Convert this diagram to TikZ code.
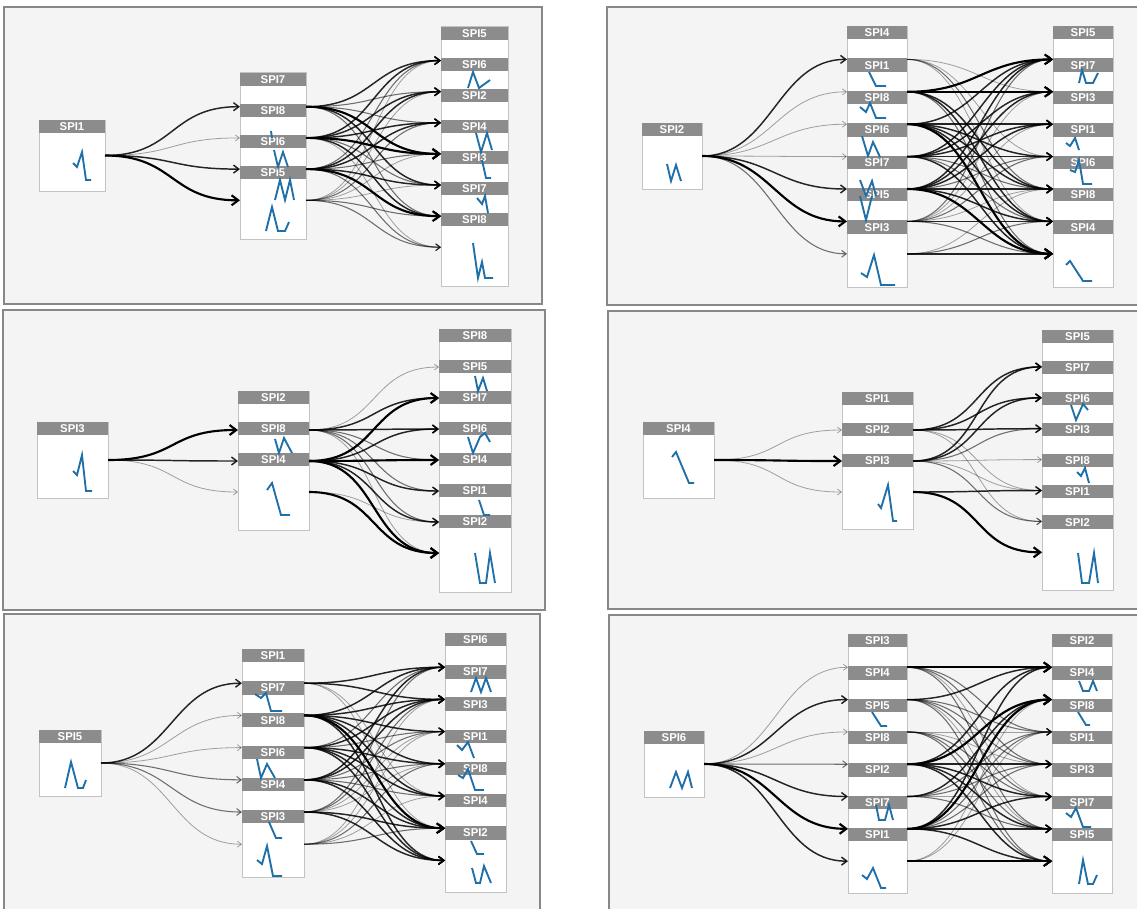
\documentclass[tikz,border=0pt]{standalone}
\usepackage{fontspec}
\setmainfont{Liberation Sans}
\usetikzlibrary{arrows.meta}

\definecolor{panelfill}{RGB}{244,244,244}
\definecolor{paneledge}{RGB}{135,135,135}
\definecolor{hdrgray}{RGB}{140,140,140}
\definecolor{cardedge}{RGB}{195,195,195}
\definecolor{sparkblue}{RGB}{31,111,168}

\begin{document}
\begin{tikzpicture}[
  x=0.75pt, y=-0.75pt,
  every node/.append style={font=\bfseries\fontsize{8.5}{9}\selectfont},
  panel/.style={fill=panelfill, draw=paneledge, line width=0.8pt},
  card/.style={fill=white, draw=cardedge, line width=0.6pt},
  hdr/.style={fill=hdrgray, text=white, minimum width=#1*0.75pt,
    minimum height=10pt, inner sep=0pt},
  spark/.style={draw=sparkblue, line width=1.4pt},
  flowline/.style={-{Straight Barb[length=1.8pt 2, width=2.7pt 3]},
    to path={.. controls +(70,0) and +(-70,0) .. (\tikztotarget)}},
  faint/.style={draw=black, opacity=0.35, line width=0.6pt},
  light/.style={draw=black, opacity=0.55, line width=0.8pt},
  dark/.style={draw=black, opacity=0.85, line width=1.1pt},
  heavy/.style={draw=black, line width=1.6pt},
]
\useasboundingbox (0,0) rectangle (1137,908);
\clip (0,0) rectangle (1137,908);

% ------------------------------------------------------------- SPI1
% Columns are one white card each, the headers sit on it at a fixed pitch and
% every flow lands just under the top of the next header.
\path[panel] (4,7) rectangle (542,304);
\path[card] (39,120) rectangle (105,191);
\node[hdr=66] (s1-src) at (72,126.7) {SPI1};
\coordinate (s1-out) at (105,155.5);
\path[card] (240,72.5) rectangle (306,239);
\path[card] (441,26.5) rectangle (508,286);
\foreach \n [count=\k from 0] in {SPI7,SPI8,SPI6,SPI5}
  \node[hdr=66] (s1-m\k) at (273,{72.5+31.2*\k+6.7}) {\n};
\foreach \n [count=\k from 0] in {SPI5,SPI6,SPI2,SPI4,SPI3,SPI7,SPI8}
  \node[hdr=67] (s1-r\k) at (474.5,{26.5+31.1*\k+6.7}) {\n};
\foreach \k in {1,...,4} {
  \coordinate (s1-mi\k) at (240,{72.5+31.2*\k+3});
  \coordinate (s1-mo\k) at (306,{72.5+31.2*\k+3});
}
\foreach \k in {1,...,7}
  \coordinate (s1-ri\k) at (441,{26.5+31.1*\k+3});
\foreach \k/\w in {1/dark,2/faint,3/dark,4/heavy}
  \draw[flowline,\w] (s1-out) to (s1-mi\k);
\foreach \i/\j/\w in {
    1/1/dark,1/2/light,1/3/light,1/4/heavy,1/5/dark,1/6/light,
    2/1/dark,2/2/dark,2/3/dark,2/4/heavy,2/5/light,2/6/dark,2/7/faint,
    3/1/light,3/2/dark,3/3/dark,3/4/light,3/5/dark,3/6/heavy,3/7/light,
    4/1/faint,4/2/faint,4/3/light,4/4/faint,4/5/faint,4/6/light,4/7/light}
  \draw[flowline,\w] (s1-mo\i) to (s1-ri\j);
\draw[spark] (73,163) -- (77,167) -- (82,152) -- (86,180) -- (91,180);
\draw[spark] (271,131) -- (272,138);
\draw[spark] (274,150) -- (278,167) -- (283,152) -- (288,167);
\draw[spark] (275,200) -- (280,180) -- (285,200) -- (290,180) -- (294,200);
\draw[spark] (266,231) -- (272,207) -- (278,231) -- (285,231) -- (289,222);
\draw[spark] (468,88) -- (473,72) -- (479,88) -- (490,80);
\draw[spark] (476,133) -- (481,152) -- (487,133) -- (492,150);
\draw[spark] (482,160) -- (486,178) -- (491,178);
\draw[spark] (477,198) -- (482,204) -- (485,196) -- (488,213);
\draw[spark] (473,243) -- (478,278) -- (482,262) -- (485,278) -- (493,278);

% ------------------------------------------------------------- SPI2
\path[panel] (607,7) rectangle (1141,305);
\path[card] (642,123) rectangle (702,189);
\node[hdr=60] (s2-src) at (672,129.7) {SPI2};
\coordinate (s2-out) at (702,156);
\path[card] (847,26) rectangle (907,287);
\path[card] (1053,26) rectangle (1113,287);
\foreach \n [count=\k from 0] in {SPI4,SPI1,SPI8,SPI6,SPI7,SPI5,SPI3}
  \node[hdr=60] (s2-m\k) at (877,{26+32.4*\k+6.7}) {\n};
\foreach \n [count=\k from 0] in {SPI5,SPI7,SPI3,SPI1,SPI6,SPI8,SPI4}
  \node[hdr=60] (s2-r\k) at (1083,{26+32.4*\k+6.7}) {\n};
\foreach \k in {1,...,7} {
  \coordinate (s2-mi\k) at (847,{26+32.4*\k+1});
  \coordinate (s2-mo\k) at (907,{26+32.4*\k+1});
  \coordinate (s2-ri\k) at (1053,{26+32.4*\k+1});
}
\foreach \k/\w in {1/dark,2/faint,3/faint,4/faint,5/dark,6/heavy,7/light}
  \draw[flowline,\w] (s2-out) to (s2-mi\k);
\foreach \i/\j/\w in {
    1/2/faint,1/4/faint,1/5/light,1/6/faint,
    2/1/heavy,2/2/heavy,2/5/dark,2/6/dark,2/7/light,
    3/1/dark,3/3/dark,3/4/dark,3/5/dark,3/6/dark,3/7/heavy,
    4/1/dark,4/2/dark,4/3/dark,4/4/dark,4/5/light,4/6/light,4/7/dark,
    5/1/dark,5/2/dark,5/3/dark,5/4/light,5/5/dark,5/6/dark,5/7/heavy,
    6/1/light,6/2/faint,6/3/faint,6/4/light,6/5/faint,6/6/dark,6/7/light,
    7/5/faint,7/6/light,7/7/dark}
  \draw[flowline,\w] (s2-mo\i) to (s2-ri\j);
\draw[spark] (667,164) -- (671,181) -- (676,165) -- (681,181);
\draw[spark] (869,72) -- (876,86) -- (886,86);
\draw[spark] (860,107) -- (866,112) -- (870,103) -- (876,118) -- (886,118);
\draw[spark] (862,136) -- (868,156) -- (873,142) -- (880,157);
\draw[spark] (860,180) -- (866,196) -- (872,181) -- (876,196);
\draw[spark] (860,196) -- (866,220) -- (872,196);
\draw[spark] (861,273) -- (867,277) -- (874,255) -- (881,285) -- (895,285);
\draw[spark] (1079,83) -- (1082,70) -- (1086,83) -- (1093,83) -- (1098,73);
\draw[spark] (1066,143) -- (1070,146) -- (1075,138) -- (1079,150);
\draw[spark] (1070,170) -- (1075,172) -- (1079,160) -- (1083,184) -- (1092,184);
\draw[spark] (1066,265) -- (1070,261) -- (1083,281) -- (1092,281);

% ------------------------------------------------------------- SPI3
\path[panel] (3,310) rectangle (545,610);
\path[card] (37,422) rectangle (108,498);
\node[hdr=71] (s3-src) at (72.5,428.7) {SPI3};
\coordinate (s3-out) at (108,460);
\path[card] (238,391) rectangle (309,530);
\path[card] (439,329) rectangle (511,592);
\foreach \n [count=\k from 0] in {SPI2,SPI8,SPI4}
  \node[hdr=71] (s3-m\k) at (273.5,{391+31*\k+6.7}) {\n};
\foreach \n [count=\k from 0] in {SPI8,SPI5,SPI7,SPI6,SPI4,SPI1,SPI2}
  \node[hdr=72] (s3-r\k) at (475,{329+31*\k+6.7}) {\n};
\foreach \k in {1,...,3} {
  \coordinate (s3-mi\k) at (238,{391+31*\k+8});
  \coordinate (s3-mo\k) at (309,{391+31*\k+8});
}
\foreach \k in {1,...,7}
  \coordinate (s3-ri\k) at (439,{329+31*\k+7});
\foreach \k/\w in {1/heavy,2/dark,3/faint}
  \draw[flowline,\w] (s3-out) to (s3-mi\k);
\foreach \i/\j/\w in {
    1/1/faint,1/2/dark,1/3/dark,1/4/light,1/5/light,1/6/light,1/7/faint,
    2/2/heavy,2/3/dark,2/4/heavy,2/5/dark,2/6/dark,2/7/heavy,
    3/6/faint,3/7/heavy}
  \draw[flowline,\w] (s3-mo\i) to (s3-ri\j);
\draw[spark] (73,471) -- (77,475) -- (82,455) -- (86,491) -- (92,491);
\draw[spark] (275,439) -- (279,453) -- (284,438) -- (292,453);
\draw[spark] (267,490) -- (272,483) -- (281,515) -- (290,515);
\draw[spark] (475,376) -- (478,391) -- (483,378) -- (487,391);
\draw[spark] (468,437) -- (473,453) -- (480,437) -- (485,433) -- (490,442);
\draw[spark] (479,500) -- (484,515) -- (490,515);
\draw[spark] (475,553) -- (480,583) -- (486,583) -- (490,553) -- (495,583);

% ------------------------------------------------------------- SPI4
\path[panel] (608,311) rectangle (1141,609);
\path[card] (643,422) rectangle (714,498);
\node[hdr=71] (s4-src) at (678.5,428.7) {SPI4};
\coordinate (s4-out) at (714,460);
\path[card] (842,392) rectangle (913,529);
\path[card] (1042,330) rectangle (1113,590);
\foreach \n [count=\k from 0] in {SPI1,SPI2,SPI3}
  \node[hdr=71] (s4-m\k) at (877.5,{392+31*\k+6.7}) {\n};
\foreach \n [count=\k from 0] in {SPI5,SPI7,SPI6,SPI3,SPI8,SPI1,SPI2}
  \node[hdr=71] (s4-r\k) at (1077.5,{330+30.9*\k+6.7}) {\n};
\foreach \k in {1,...,3} {
  \coordinate (s4-mi\k) at (842,{392+31*\k+7});
  \coordinate (s4-mo\k) at (913,{392+31*\k+7});
}
\foreach \k in {1,...,7}
  \coordinate (s4-ri\k) at (1042,{330+30.9*\k+6});
\foreach \k/\w in {1/faint,2/heavy,3/faint}
  \draw[flowline,\w] (s4-out) to (s4-mi\k);
\foreach \i/\j/\w in {
    1/1/dark,1/2/dark,1/3/dark,1/5/faint,1/6/faint,
    2/1/dark,2/2/dark,2/3/light,2/4/faint,2/5/faint,2/6/light,
    3/5/dark,3/7/heavy}
  \draw[flowline,\w] (s4-mo\i) to (s4-ri\j);
\draw[spark] (672,457) -- (676,452) -- (689,483) -- (694,483);
\draw[spark] (878,504) -- (881,508) -- (888,485) -- (893,521) -- (897,521);
\draw[spark] (1071,405) -- (1076,420) -- (1083,404) -- (1088,410);
\draw[spark] (1077,472) -- (1081,476) -- (1085,468) -- (1089,483);
\draw[spark] (1078,553) -- (1082,583) -- (1089,583) -- (1094,553) -- (1098,583);

% ------------------------------------------------------------- SPI5
\path[panel] (4,614) rectangle (540,912);
\path[card] (39,730) rectangle (101,796);
\node[hdr=62] (s5-src) at (70,736.7) {SPI5};
\coordinate (s5-out) at (101,763);
\path[card] (242,649) rectangle (304,877);
\path[card] (445,633) rectangle (506,892);
\foreach \n [count=\k from 0] in {SPI1,SPI7,SPI8,SPI6,SPI4,SPI3}
  \node[hdr=62] (s5-m\k) at (273,{649+32.2*\k+6.7}) {\n};
\foreach \n [count=\k from 0] in {SPI6,SPI7,SPI3,SPI1,SPI8,SPI4,SPI2}
  \node[hdr=61] (s5-r\k) at (475.5,{633+32.2*\k+6.7}) {\n};
\foreach \k in {1,...,6} {
  \coordinate (s5-mi\k) at (242,{649+32.2*\k+2});
  \coordinate (s5-mo\k) at (304,{649+32.2*\k+2});
}
\foreach \k in {1,...,7}
  \coordinate (s5-ri\k) at (445,{633+32.2*\k+2});
\foreach \k/\w in {1/dark,2/faint,3/faint,4/light,5/light,6/faint}
  \draw[flowline,\w] (s5-out) to (s5-mi\k);
\foreach \i/\j/\w in {
    1/1/dark,1/2/dark,1/5/faint,1/6/faint,
    2/1/dark,2/2/dark,2/3/dark,2/4/dark,2/5/dark,2/6/heavy,2/7/dark,
    3/1/light,3/2/dark,3/3/light,3/4/dark,3/5/dark,3/6/dark,3/7/dark,
    4/1/dark,4/2/dark,4/3/light,4/4/light,4/5/light,4/6/dark,4/7/dark,
    5/1/light,5/2/light,5/3/faint,5/4/faint,5/6/dark,5/7/dark,
    6/2/faint,6/3/faint,6/4/light,6/5/faint,6/6/light}
  \draw[flowline,\w] (s5-mo\i) to (s5-ri\j);
\draw[spark] (65,788) -- (71,762) -- (78,788) -- (83,788) -- (86,780);
\draw[spark] (255,694) -- (261,698) -- (266,693) -- (271,711) -- (282,711);
\draw[spark] (257,759) -- (261,778) -- (267,764) -- (275,778);
\draw[spark] (269,822) -- (276,838) -- (282,838);
\draw[spark] (257,860) -- (262,864) -- (267,846) -- (273,876) -- (282,876);
\draw[spark] (471,692) -- (476,678) -- (481,692) -- (486,678) -- (491,692);
\draw[spark] (457,745) -- (462,750) -- (468,742) -- (474,758);
\draw[spark] (458,775) -- (463,778) -- (468,769) -- (475,790) -- (484,790);
\draw[spark] (471,841) -- (477,854) -- (484,854);
\draw[spark] (472,868) -- (476,883) -- (480,883) -- (484,866) -- (491,883);

% ------------------------------------------------------------- SPI6
\path[panel] (609,615) rectangle (1141,912);
\path[card] (644,731) rectangle (704,797);
\node[hdr=60] (s6-src) at (674,737.7) {SPI6};
\coordinate (s6-out) at (704,764);
\path[card] (848,634) rectangle (907,893);
\path[card] (1052,634) rectangle (1112,893);
\foreach \n [count=\k from 0] in {SPI3,SPI4,SPI5,SPI8,SPI2,SPI7,SPI1}
  \node[hdr=59] (s6-m\k) at (877.5,{634+32.3*\k+6.7}) {\n};
\foreach \n [count=\k from 0] in {SPI2,SPI4,SPI8,SPI1,SPI3,SPI7,SPI5}
  \node[hdr=60] (s6-r\k) at (1082,{634+32.3*\k+6.7}) {\n};
\foreach \k in {1,...,7} {
  \coordinate (s6-mi\k) at (848,{634+32.3*\k+1});
  \coordinate (s6-mo\k) at (907,{634+32.3*\k+1});
  \coordinate (s6-ri\k) at (1052,{634+32.3*\k+1});
}
\foreach \k/\w in {1/faint,2/dark,3/faint,4/light,5/dark,6/heavy,7/dark}
  \draw[flowline,\w] (s6-out) to (s6-mi\k);
\foreach \i/\j/\w in {
    1/1/heavy,1/3/light,1/4/light,1/5/faint,1/6/light,
    2/1/dark,2/3/light,2/4/light,2/5/light,2/6/faint,2/7/light,
    3/3/faint,3/4/faint,3/5/light,3/6/light,3/7/light,
    4/1/dark,4/2/heavy,4/4/dark,4/5/dark,4/6/dark,4/7/dark,
    5/2/dark,5/3/light,5/4/light,5/5/faint,5/6/light,
    6/1/dark,6/2/heavy,6/3/light,6/4/light,6/5/dark,6/6/dark,6/7/dark,
    7/2/faint,7/3/faint,7/7/heavy}
  \draw[flowline,\w] (s6-mo\i) to (s6-ri\j);
\draw[spark] (670,788) -- (676,772) -- (682,788) -- (688,772) -- (692,788);
\draw[spark] (872,712) -- (881,726) -- (887,726);
\draw[spark] (876,805) -- (879,820) -- (885,820) -- (889,805) -- (893,820);
\draw[spark] (862,875) -- (867,879) -- (873,868) -- (881,888) -- (886,888);
\draw[spark] (1079,681) -- (1083,691) -- (1089,691) -- (1093,681) -- (1097,691);
\draw[spark] (1078,712) -- (1086,725) -- (1090,725);
\draw[spark] (1066,813) -- (1071,817) -- (1076,808) -- (1083,827) -- (1091,827);
\draw[spark] (1079,884) -- (1083,860) -- (1088,884) -- (1093,884) -- (1097,875);

\end{tikzpicture}
\end{document}
